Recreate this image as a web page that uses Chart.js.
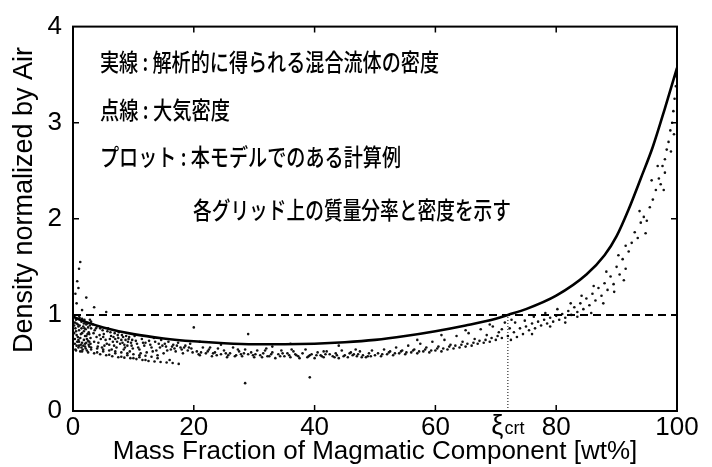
<!DOCTYPE html>
<html>
<head>
<meta charset="utf-8">
<script src="https://cdn.jsdelivr.net/npm/chart.js@4.4.1/dist/chart.umd.min.js"></script>
<style>
  html, body { margin: 0; padding: 0; background: #fff; }
</style>
</head>
<body>
<canvas id="densityChart" width="712" height="467"></canvas>
<script>
// solid line: analytic density of the mixed fluid
const massFraction = [0, 2, 5, 10, 15, 20, 25, 30, 35, 40, 45, 50, 55, 60, 65, 70, 72, 75, 80, 85, 88, 90, 92, 94, 96, 98, 100];
const mixtureDensity = [0.98, 0.93, 0.87, 0.80, 0.755, 0.725, 0.705, 0.695, 0.695, 0.70, 0.715, 0.74, 0.78, 0.83, 0.89, 0.96, 1.0, 1.06, 1.20, 1.42, 1.62, 1.82, 2.1, 2.42, 2.75, 3.15, 3.57];

// dashed line: air density
const airRange = [0, 100];
const airDensity = 1;

// critical mass fraction
const xiCrt = 72;

const xTickValues = [0, 20, 40, 60, 72, 80, 100];
const yTickValues = [0, 1, 2, 3, 4];

// plot: model results per grid cell [mass fraction, density]
const gridPoints = [
  // near 0 wt%
  [0.2,0.98],[0.3,0.92],[0.4,0.86],[0.5,0.95],[0.6,0.79],[0.7,0.72],[0.8,0.90],[0.9,0.66],[1.0,0.84],[1.1,0.97],
  [1.2,0.76],[1.3,0.69],[1.4,0.93],[1.5,0.81],[1.6,0.64],[1.7,0.88],[1.8,0.74],[1.9,0.95],[2.0,0.70],[2.1,0.85],
  [2.2,0.78],[2.3,0.63],[2.4,0.91],[2.5,0.73],[2.6,0.82],[2.7,0.67],[2.8,0.89],[2.9,0.76],[3.0,0.93],[0.3,0.75],
  [0.6,0.68],[0.9,0.88],[1.2,0.62],[1.5,0.71],[1.8,0.83],[2.1,0.65],[2.4,0.80],[2.7,0.72],[3.0,0.86],[0.4,0.64],
  [1.0,0.99],[1.6,0.94],[2.2,0.90],[2.8,0.95],[0.2,0.81],[0.8,0.77],[1.4,0.86],[2.0,0.78],[2.6,0.69],[3.0,0.64],
  [0.3,0.70],[0.5,0.83],[0.7,0.96],[0.9,0.74],[1.1,0.89],[1.3,0.80],[1.5,0.96],[1.7,0.68],[1.9,0.86],[2.1,0.92],
  [2.3,0.75],[2.5,0.87],[2.7,0.80],[2.9,0.70],[0.2,0.89],[0.6,0.91],[1.0,0.72],[1.4,0.66],[1.8,0.91],[2.2,0.71],
  [0.4,1.22],[0.7,1.35],[1.0,1.48],[1.2,1.55],[0.6,1.12],[1.5,1.05],[2.2,1.18],[0.9,1.28],[5.5,1.03],[3.5,1.08],
  // 3 - 10 wt%
  [3.3,0.90],[3.6,0.84],[3.9,0.77],[4.2,0.71],[4.5,0.86],[4.8,0.66],[5.1,0.80],[5.4,0.74],[5.7,0.83],[6.0,0.69],
  [6.3,0.78],[6.6,0.72],[6.9,0.81],[7.2,0.66],[7.5,0.76],[7.8,0.70],[8.1,0.79],[8.4,0.64],[8.7,0.74],[9.0,0.68],
  [9.3,0.77],[9.6,0.71],[9.9,0.65],[3.5,0.72],[4.0,0.88],[4.6,0.75],[5.2,0.68],[5.8,0.86],[6.4,0.64],[7.0,0.75],
  [7.6,0.82],[8.2,0.71],[8.8,0.78],[9.4,0.62],[9.8,0.74],[4.4,0.79],[6.1,0.75],[7.3,0.72],[8.5,0.69],[9.1,0.72],
  [3.4,0.81],[4.1,0.67],[4.9,0.84],[5.6,0.70],[6.2,0.82],[6.8,0.68],[7.4,0.79],[8.0,0.74],[8.6,0.66],[9.2,0.75],
  [3.8,0.86],[5.0,0.77],[6.7,0.77],[8.3,0.77],[9.7,0.68],
  // lower streaks
  [0.5,0.63],[1.5,0.62],[2.5,0.61],[3.5,0.60],[4.5,0.59],[5.5,0.58],[6.5,0.57],[7.5,0.56],[8.5,0.555],[9.5,0.55],
  [10.5,0.54],[11.5,0.53],[12.5,0.52],[13.5,0.515],[14.5,0.51],[15.5,0.505],[16.5,0.50],[17.5,0.49],[4.0,0.61],[6.0,0.585],
  [8.0,0.565],[10.0,0.55],[12.0,0.53],[5.0,0.62],[7.0,0.60],[9.0,0.58],[11.0,0.56],
  [1,0.68],[3,0.66],[5,0.64],[7,0.62],[9,0.60],[11,0.58],[13,0.565],
  [2,0.67],[4,0.65],[6,0.63],[8,0.61],[10,0.59],[12,0.575],[14,0.55],[16,0.53],
  // 10 - 20 wt%
  [10.2,0.78],[10.6,0.70],[11.0,0.64],[11.4,0.75],[11.8,0.68],[12.2,0.61],[12.6,0.73],[13.0,0.66],[13.4,0.76],[13.8,0.63],
  [14.2,0.70],[14.6,0.74],[15.0,0.60],[15.4,0.67],[15.8,0.72],[16.2,0.64],[16.6,0.69],[17.0,0.62],[17.4,0.71],[17.8,0.66],
  [18.2,0.60],[18.6,0.68],[19.0,0.63],[19.4,0.70],[19.8,0.61],[10.8,0.66],[12.0,0.71],[13.2,0.62],[14.4,0.66],[15.6,0.63],
  [16.8,0.65],[18.0,0.64],[19.2,0.66],[11.2,0.60],[14.0,0.58],
  [10.4,0.73],[11.6,0.71],[12.8,0.69],[13.6,0.72],[14.8,0.68],[15.2,0.70],[16.4,0.67],[17.2,0.68],[18.4,0.66],[19.6,0.65],
  // 20 - 50 wt%
  [20.5,0.62],[21,0.58],[21.5,0.66],[22,0.60],[22.5,0.64],[23,0.57],[23.5,0.61],[24,0.65],[24.5,0.59],[25,0.63],
  [25.5,0.56],[26,0.60],[26.5,0.66],[27,0.58],[27.5,0.62],[28,0.57],[28.5,0.64],[29,0.59],[29.5,0.61],[30,0.56],
  [30.5,0.63],[31,0.58],[31.5,0.60],[32,0.65],[32.5,0.57],[33,0.61],[33.5,0.55],[34,0.59],[34.5,0.63],[35,0.57],
  [35.5,0.60],[36,0.56],[36.5,0.62],[37,0.58],[37.5,0.55],[38,0.60],[38.5,0.64],[39,0.57],[39.5,0.59],[40,0.55],
  [40.5,0.61],[41,0.58],[41.5,0.56],[42,0.62],[42.5,0.59],[43,0.57],[43.5,0.60],[44,0.55],[44.5,0.63],[45,0.58],
  [45.5,0.56],[46,0.61],[46.5,0.59],[47,0.57],[47.5,0.62],[48,0.58],[48.5,0.56],[49,0.60],[49.5,0.63],[50,0.58],
  [20.8,0.59],[22.3,0.62],[23.8,0.58],[25.3,0.60],[26.8,0.57],[28.3,0.60],[29.8,0.58],[31.3,0.56],[32.8,0.59],[34.3,0.57],
  [35.8,0.58],[37.3,0.57],[38.8,0.56],[40.3,0.58],[41.8,0.59],[43.3,0.56],[44.8,0.57],[46.3,0.58],[47.8,0.56],[49.3,0.57],
  [21.2,0.61],[23.2,0.60],[25.7,0.58],[27.8,0.59],[30.2,0.59],[32.2,0.57],[34.7,0.60],[36.8,0.59],[39.2,0.58],[41.2,0.57],
  [43.7,0.58],[45.8,0.60],[47.2,0.59],[48.8,0.57],[22.7,0.66],[27.3,0.64],[31.8,0.63],[36.2,0.64],[41.5,0.62],[46.8,0.64],
  [24.5,0.69],[33,0.67],[36,0.70],[44,0.68],[21,0.72],
  [20,0.87],[29,0.80],[39.2,0.35],[28.5,0.29],
  // 50 - 72 wt%
  [50.5,0.60],[51,0.57],[51.5,0.64],[52,0.59],[52.5,0.62],[53,0.58],[53.5,0.66],[54,0.60],[54.5,0.63],[55,0.59],
  [55.5,0.68],[56,0.61],[56.5,0.64],[57,0.60],[57.5,0.70],[58,0.62],[58.5,0.66],[59,0.61],[59.5,0.72],[60,0.63],
  [60.5,0.67],[61,0.62],[61.5,0.74],[62,0.64],[62.5,0.69],[63,0.65],[63.5,0.78],[64,0.66],[64.5,0.72],[65,0.67],
  [65.5,0.81],[66,0.68],[66.5,0.75],[67,0.70],[67.5,0.85],[68,0.71],[68.5,0.79],[69,0.72],[69.5,0.88],[70,0.74],
  [70.5,0.82],[71,0.76],[71.5,0.92],[72,0.78],[72.3,0.86],[72.6,0.95],
  [52.3,0.61],[54.3,0.62],[56.3,0.63],[58.3,0.64],[60.3,0.65],[62.3,0.67],[64.3,0.69],[66.3,0.71],[68.3,0.74],[70.3,0.78],
  [57,0.74],[61,0.79],[65,0.84],[69,0.90],[71,0.85],
  [51.2,0.59],[53.3,0.60],[55.2,0.61],[57.3,0.62],[59.3,0.63],[61.3,0.65],[63.3,0.68],[65.3,0.70],[67.3,0.73],[69.3,0.76],
  // 72 - 92 wt%
  [72.5,0.74],[73,0.82],[73.5,0.77],[74,0.86],[74.5,0.80],[75,0.88],[75.5,0.84],[76,0.91],[76.5,0.86],[77,0.93],
  [77.5,0.89],[78,0.95],[78.5,0.91],[79,0.97],[79.5,0.93],[80,0.99],[80.5,0.95],[81,1.01],[81.5,0.97],[82,1.04],
  [82.5,1.00],[83,1.08],[83.5,1.03],[84,1.12],[84.5,1.06],[85,1.17],[85.5,1.10],[86,1.22],[86.5,1.15],[87,1.28],
  [87.5,1.20],[88,1.33],[88.5,1.26],[89,1.40],[89.5,1.32],[90,1.50],[90.5,1.42],[91,1.58],[91.5,1.48],[92,1.66],
  [73.2,0.92],[74.8,0.94],[76.3,0.98],[78.2,1.02],[80.2,1.06],[82.4,1.12],[84.2,1.20],[86.2,1.30],[88.3,1.45],[90.3,1.62],
  [76,0.80],[79,0.88],[81.5,0.92],[83.5,0.98],[85.8,1.02],[87.8,1.12],[89.6,1.24],[91.2,1.36],
  // 92 - 100 wt%
  [92.5,1.75],[93,1.86],[93.5,1.80],[94,1.96],[94.5,2.02],[95,1.98],[95.5,2.12],[96,2.20],[96.5,2.30],[97,2.42],
  [97.3,2.36],[97.6,2.55],[98,2.62],[98.3,2.72],[98.6,2.80],[98.9,2.92],[99.2,3.00],[99.4,3.12],[99.6,3.25],[99.8,3.38],
  [99.9,3.48],[99.5,2.88],[99.0,2.70],[98.0,2.48],[96.8,2.55],[95.8,2.40],[93.8,2.08],[91.5,1.72],[94.8,1.85],[97.8,2.30]
];

const noteLines = [
  '実線 : 解析的に得られる混合流体の密度',
  '点線 : 大気密度',
  'プロット : 本モデルでのある計算例',
  '各グリッド上の質量分率と密度を示す'
];

const xTitle = 'Mass Fraction of Magmatic Component [wt%]';
const yTitle = 'Density normalized by Air';

const latin = '"Liberation Sans", Arial, sans-serif';

// frame, inward ticks, the ξcrt label, notes and y title
const decorations = {
  id: 'decorations',
  afterDraw(chart) {
    const ctx = chart.ctx;
    const area = chart.chartArea;
    const xs = chart.scales.x;
    const ys = chart.scales.y;
    ctx.save();
    ctx.strokeStyle = '#000';
    ctx.lineWidth = 2;
    ctx.strokeRect(area.left, area.top, area.right - area.left, area.bottom - area.top);

    ctx.lineWidth = 1.5;
    ctx.beginPath();
    [20, 40, 60, 80].forEach(v => {
      const px = xs.getPixelForValue(v);
      ctx.moveTo(px, area.bottom); ctx.lineTo(px, area.bottom - 6);
      ctx.moveTo(px, area.top); ctx.lineTo(px, area.top + 6);
    });
    [1, 2, 3].forEach(v => {
      const py = ys.getPixelForValue(v);
      ctx.moveTo(area.left, py); ctx.lineTo(area.left + 6, py);
      ctx.moveTo(area.right, py); ctx.lineTo(area.right - 6, py);
    });
    ctx.stroke();

    // ξcrt tick label
    const cx = xs.getPixelForValue(xiCrt);
    ctx.fillStyle = '#000';
    ctx.textBaseline = 'alphabetic';
    ctx.font = '27px ' + latin;
    const wXi = ctx.measureText('ξ').width;
    ctx.font = '18px ' + latin;
    const wCrt = ctx.measureText('crt').width;
    const startX = cx - (wXi + 1 + wCrt) / 2;
    ctx.textAlign = 'left';
    ctx.font = '27px ' + latin;
    ctx.fillText('ξ', startX, 434);
    ctx.font = '18px ' + latin;
    ctx.fillText('crt', startX + wXi + 1, 434);

    // y axis title
    ctx.save();
    ctx.translate(25, 200);
    ctx.rotate(-Math.PI / 2);
    ctx.font = '27px ' + latin;
    ctx.textAlign = 'center';
    ctx.textBaseline = 'middle';
    ctx.fillText(yTitle, 0, 0);
    ctx.restore();

    // Japanese notes, condensed to the widths in the figure
    const spots = [[100, 62, 339], [100, 110, 130], [100, 157, 301], [193, 210, 318]];
    ctx.font = '500 24px "Noto Sans CJK JP", sans-serif';
    ctx.textBaseline = 'middle';
    ctx.textAlign = 'left';
    noteLines.forEach((txt, i) => {
      const [x, y, w] = spots[i];
      const m = ctx.measureText(txt).width;
      ctx.save();
      ctx.translate(x, y);
      ctx.scale(w / m, 1);
      ctx.fillText(txt, 0, 0);
      ctx.restore();
    });
    ctx.restore();
  }
};

const ctx = document.getElementById('densityChart').getContext('2d');
new Chart(ctx, {
  type: 'scatter',
  data: {
    datasets: [
      {
        label: 'grid',
        data: gridPoints.map(p => ({ x: p[0], y: p[1] })),
        pointRadius: 1.3,
        pointBorderWidth: 0,
        pointBackgroundColor: '#111',
        order: 3
      },
      {
        label: 'mixture',
        data: massFraction.map((x, i) => ({ x: x, y: mixtureDensity[i] })),
        showLine: true,
        borderColor: '#000',
        borderWidth: 2.6,
        pointRadius: 0,
        cubicInterpolationMode: 'monotone',
        order: 1
      },
      {
        label: 'air',
        data: airRange.map(x => ({ x: x, y: airDensity })),
        showLine: true,
        borderColor: '#000',
        borderWidth: 2,
        borderDash: [8, 5],
        pointRadius: 0,
        order: 2
      },
      {
        label: 'xi crt',
        data: [{ x: xiCrt, y: 0 }, { x: xiCrt, y: airDensity }],
        showLine: true,
        borderColor: '#000',
        borderWidth: 1,
        borderDash: [1, 2],
        pointRadius: 0,
        order: 2
      }
    ]
  },
  options: {
    responsive: false,
    animation: false,
    devicePixelRatio: 1,
    layout: { padding: { top: 19, right: 35, left: 0, bottom: 0 } },
    plugins: { legend: { display: false }, tooltip: { enabled: false } },
    scales: {
      x: {
        type: 'linear',
        min: 0,
        max: 100,
        afterFit: s => { s.height = 56; },
        afterBuildTicks: s => { s.ticks = xTickValues.map(v => ({ value: v })); },
        grid: { display: false, drawTicks: false },
        border: { display: false },
        ticks: {
          autoSkip: false,
          maxRotation: 0,
          padding: 1,
          color: '#000',
          font: { family: latin, size: 26 },
          callback: v => (v === xiCrt ? '' : String(v))
        },
        title: {
          display: true,
          text: xTitle,
          color: '#000',
          font: { family: latin, size: 26 },
          padding: { top: 0, bottom: 0 }
        }
      },
      y: {
        type: 'linear',
        min: 0,
        max: 4,
        afterFit: s => { s.width = 73; },
        afterBuildTicks: s => { s.ticks = yTickValues.map(v => ({ value: v })); },
        grid: { display: false, drawTicks: false },
        border: { display: false },
        ticks: {
          padding: 11,
          color: '#000',
          font: { family: latin, size: 26 }
        }
      }
    }
  },
  plugins: [decorations]
});
</script>
</body>
</html>
